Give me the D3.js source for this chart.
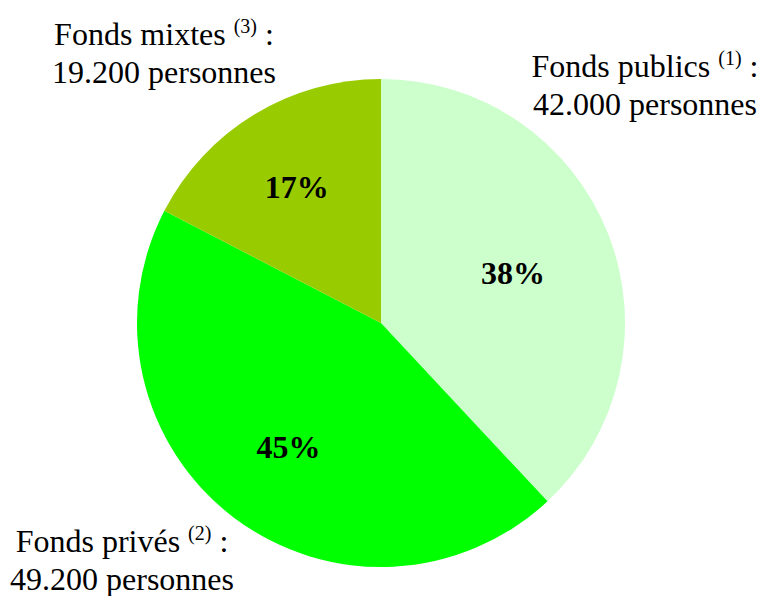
<!DOCTYPE html>
<meta charset="utf-8">
<script src="https://d3js.org/d3.v7.min.js"></script>
<style>
  body { margin: 0; background: #fff; }
</style>
<div id="chart"></div>
<script>

// data
var categories = ["Fonds publics", "Fonds privés", "Fonds mixtes"];
var notes = ["(1)", "(2)", "(3)"];
var persons = [42000, 49200, 19200];
var personLabels = ["42.000 personnes", "49.200 personnes", "19.200 personnes"];
var colors = ["#ccffcc", "#00ff00", "#99cc00"];

var width = 764, height = 596;
var cx = 381, cy = 323, radius = 244;
var serif = "'Liberation Serif', 'Times New Roman', Times, serif";

var svg = d3.select("#chart")
  .append("svg")
    .attr("width", width)
    .attr("height", height);

var g = svg.append("g")
  .attr("transform", "translate(" + cx + "," + cy + ")");

var total = d3.sum(persons);

var pie = d3.pie()
  .sort(null)
  .value(function(d) { return d; });

var arcs = pie(persons);

var arc = d3.arc()
  .innerRadius(0)
  .outerRadius(radius);

// label distance from centre, per slice
var labelR = [142, 153, 162];

g.selectAll("path.slice")
  .data(arcs)
  .enter()
  .append("path")
    .attr("class", "slice")
    .attr("d", arc)
    .attr("fill", function(d, i) { return colors[i]; });

// percentages inside
g.selectAll("text.pct")
  .data(arcs)
  .enter()
  .append("text")
    .attr("class", "pct")
    .attr("transform", function(d, i) {
      var c = d3.arc().innerRadius(labelR[i]).outerRadius(labelR[i]).centroid(d);
      return "translate(" + c + ")";
    })
    .attr("text-anchor", "middle")
    .attr("dy", "0.42em")
    .attr("font-family", serif)
    .style("font-size", "32px")
    .style("font-weight", "bold")
    .text(function(d) { return Math.round(d.value / total * 100) + "%"; });

// outside labels (positions in page coords)
var labelPos = [[645, 77], [122, 552], [164, 45]];

var outer = svg.selectAll("g.outer")
  .data(categories)
  .enter()
  .append("g")
    .attr("class", "outer")
    .attr("transform", function(d, i) { return "translate(" + labelPos[i][0] + "," + labelPos[i][1] + ")"; });

var line1 = outer.append("text")
  .attr("text-anchor", "middle")
  .attr("font-family", serif)
  .style("font-size", "32px");
line1.append("tspan").text(function(d) { return d + " "; });
line1.append("tspan")
  .attr("dy", -12)
  .style("font-size", "20px")
  .text(function(d, i) { return notes[i]; });
line1.append("tspan")
  .attr("dy", 12)
  .text(" :");

outer.append("text")
  .attr("text-anchor", "middle")
  .attr("y", 38)
  .attr("font-family", serif)
  .style("font-size", "32px")
  .text(function(d, i) { return personLabels[i]; });

</script>
